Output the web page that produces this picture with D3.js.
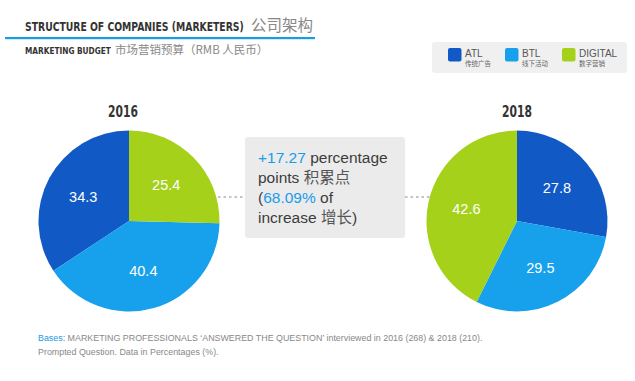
<!DOCTYPE html>
<html><head><meta charset="utf-8">
<script src="https://cdn.jsdelivr.net/npm/d3@7"></script>
<style>
html,body{margin:0;padding:0;background:#fff;}
svg{display:block;}
</style></head>
<body>
<svg id="chart" width="635" height="381"></svg>
<script>
const categories = ["ATL", "BTL", "DIGITAL"];
const categoriesCN = ["传统广告", "线下活动", "数字营销"];
const years = ["2016", "2018"];
const values2016 = [34.3, 40.4, 25.4];
const values2018 = [27.8, 29.5, 42.6];
const colors = ["#1159c4", "#17a0ec", "#a6d11b"];

const svg = d3.select("#chart");
const sans = "'Liberation Sans', Arial, sans-serif";
const cond = "'DejaVu Sans Condensed', 'Liberation Sans Narrow', sans-serif";
const cjk = "'Noto Sans CJK SC', sans-serif";

// condensed text fitted to a width by horizontal scaling
function fitText(x, y, str, size, width, anchor) {
  const t = svg.append("text")
    .attr("font-family", cond).attr("font-weight", "bold").attr("font-size", size)
    .attr("fill", "#333").text(str);
  const w = t.node().getComputedTextLength();
  const sx = width / w;
  const x0 = anchor === "middle" ? x - width / 2 : x;
  t.attr("transform", `translate(${x0},${y}) scale(${sx},1)`);
  return t;
}

// Title
fitText(25, 31, "STRUCTURE OF COMPANIES (MARKETERS)", 13, 219);
svg.append("text").attr("x", 251).attr("y", 31)
  .attr("font-family", cjk).attr("font-size", 15.5).attr("fill", "#888")
  .text("公司架构");
svg.append("rect").attr("x", 5).attr("y", 37).attr("width", 310).attr("height", 2.2).attr("fill", "#1a9be8");

fitText(25, 54, "MARKETING BUDGET", 9.5, 86);
svg.append("text").attr("x", 115).attr("y", 54)
  .attr("font-family", cjk).attr("font-size", 11.5).attr("fill", "#888")
  .text("市场营销预算（RMB 人民币）");

// Legend
svg.append("rect").attr("x", 432).attr("y", 42).attr("width", 195).attr("height", 31)
  .attr("rx", 3).attr("fill", "#f0f0f0");
const legX = d3.scaleOrdinal().domain(categories).range([448, 505, 562]);
const leg = svg.selectAll("g.leg").data(categories).join("g").attr("class", "leg")
  .attr("transform", d => `translate(${legX(d)},48)`);
leg.append("rect").attr("width", 13.5).attr("height", 13.5).attr("rx", 2)
  .attr("fill", (d, i) => colors[i]);
leg.append("text").attr("x", 17).attr("y", 8.5)
  .attr("font-family", sans).attr("font-size", 10).attr("fill", "#555")
  .text(d => d);
leg.append("text").attr("x", 17).attr("y", 17.5)
  .attr("font-family", cjk).attr("font-size", 6.5).attr("fill", "#666")
  .text((d, i) => categoriesCN[i]);

// Dotted connector
const cy = 221, r = 90.5;
svg.append("line").attr("x1", 152).attr("x2", 497).attr("y1", 197).attr("y2", 197)
  .attr("stroke", "#888").attr("stroke-width", 1.1).attr("stroke-dasharray", "2.5,3");

// Pies
const arc = d3.arc().innerRadius(0).outerRadius(r);
const labelArc = d3.arc().innerRadius(52).outerRadius(52);
const pies = [
  {year: years[0], cx: 129, values: values2016, start: 0, end: -2 * Math.PI, yearX: 123},
  {year: years[1], cx: 517, values: values2018, start: 0, end: 2 * Math.PI, yearX: 517}
];
pies.forEach(p => {
  const pie = d3.pie().sort(null).startAngle(p.start).endAngle(p.end);
  const arcs = pie(p.values);
  const g = svg.append("g").attr("transform", `translate(${p.cx},${cy})`);
  g.selectAll("path").data(arcs).join("path")
    .attr("d", arc).attr("fill", (d, i) => colors[i]);
  g.selectAll("text").data(arcs).join("text")
    .attr("transform", d => `translate(${labelArc.centroid(d)})`)
    .attr("text-anchor", "middle").attr("dy", "0.36em")
    .attr("font-family", sans).attr("font-size", 14.5).attr("fill", "#fff")
    .text(d => d.data.toFixed(1));
  fitText(p.yearX, 116.5, p.year, 16, 30, "middle");
});

// Center box
svg.append("rect").attr("x", 245).attr("y", 137).attr("width", 160).attr("height", 101)
  .attr("rx", 3).attr("fill", "#ebebeb");
const boxLines = [
  [["+17.27 ", "#1a9be8", sans], ["percentage", "#3c3c3c", sans]],
  [["points ", "#3c3c3c", sans], ["积累点", "#555", cjk]],
  [["(", "#3c3c3c", sans], ["68.09%", "#1a9be8", sans], [" of", "#3c3c3c", sans]],
  [["increase ", "#3c3c3c", sans], ["增长", "#555", cjk], [")", "#3c3c3c", sans]]
];
boxLines.forEach((parts, i) => {
  const t = svg.append("text").attr("x", 258).attr("y", 163 + i * 20)
    .attr("font-size", 15.5).attr("xml:space", "preserve");
  parts.forEach(pt => {
    t.append("tspan").attr("fill", pt[1]).attr("font-family", pt[2]).text(pt[0]);
  });
});

// Footnote
const foot = svg.append("text").attr("x", 38).attr("y", 341)
  .attr("font-family", sans).attr("font-size", 8.9).attr("fill", "#888");
foot.append("tspan").attr("fill", "#1a9be8").text("Bases: ");
foot.append("tspan").text("MARKETING PROFESSIONALS ‘ANSWERED THE QUESTION’ interviewed in 2016 (268) & 2018 (210).");
svg.append("text").attr("x", 38).attr("y", 355)
  .attr("font-family", sans).attr("font-size", 8.9).attr("fill", "#888")
  .text("Prompted Question. Data in Percentages (%).");
</script>
</body></html>
